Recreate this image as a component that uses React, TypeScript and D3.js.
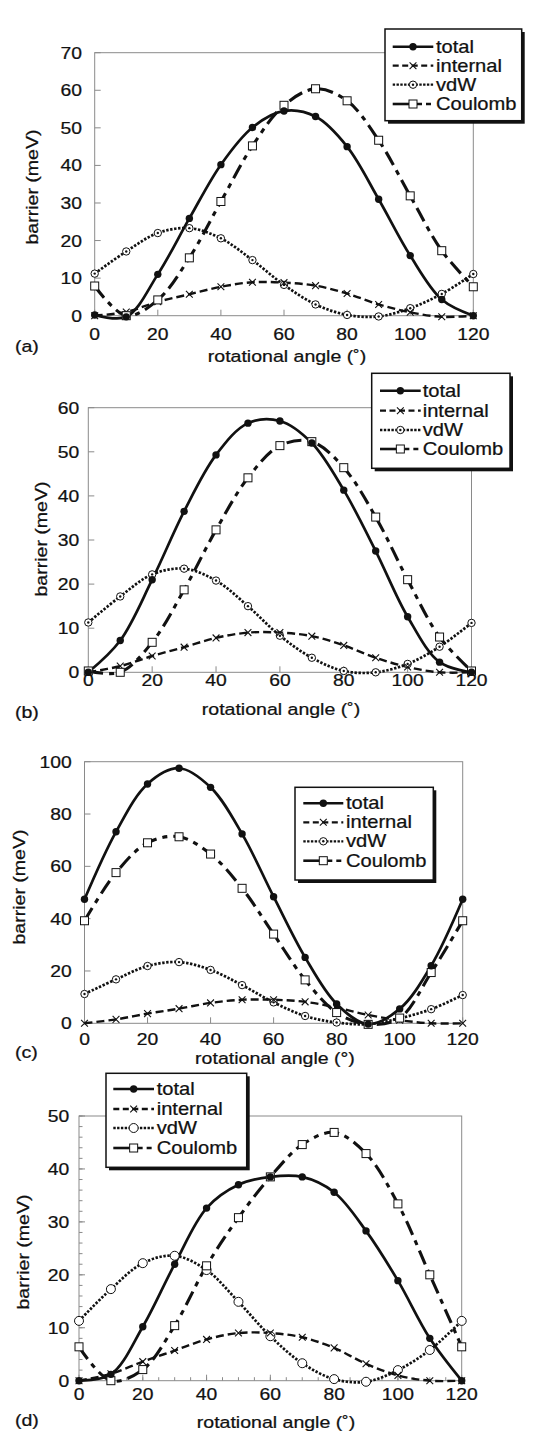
import React from 'react';
import * as d3 from 'd3';

// ---------- data ----------
const angles = [0, 10, 20, 30, 40, 50, 60, 70, 80, 90, 100, 110, 120];

const totalA = [0.2, -0.3, 11, 25.9, 40.2, 50.1, 54.5, 53, 45, 31, 16, 4.3, 0];
const internalA = [0, 1, 3.7, 5.7, 7.7, 8.9, 8.8, 8, 5.9, 3, 0.9, -0.3, 0];
const vdwA = [11.2, 17.1, 22, 23.3, 20.6, 14.8, 8.2, 3, 0.2, -0.2, 2, 5.8, 11.1];
const coulombA = [7.9, 0, 4.2, 15.4, 30.4, 45.2, 56, 60.4, 57.2, 46.7, 31.9, 17.3, 7.7];

const totalB = [0, 7.2, 21, 36.5, 49.3, 56.5, 57, 52, 41.3, 27.5, 12.6, 2.3, 0];
const internalB = [0, 1.4, 3.7, 5.7, 7.8, 9, 9, 8.2, 6.1, 3.3, 1.2, 0, 0];
const vdwB = [11.3, 17.2, 22.2, 23.5, 20.8, 15, 8.3, 3.3, 0.3, 0, 1.9, 5.8, 11.2];
const coulombB = [0.3, 0, 6.8, 18.7, 32.3, 44.1, 51.4, 52.3, 46.4, 35.2, 21, 8, 0.3];

const totalC = [47.4, 73.2, 91.5, 97.5, 90.2, 72.4, 48.4, 25.2, 7.4, -0.3, 5.5, 22, 47.4];
const internalC = [0, 1.5, 3.7, 5.6, 7.8, 9, 9, 8.2, 6, 3.2, 1.2, 0, 0];
const vdwC = [11.2, 16.8, 21.9, 23.4, 20.4, 14.6, 8, 2.8, 0.3, -0.3, 1.9, 5.4, 10.8];
const coulombC = [39.2, 57.6, 69, 71.3, 64.7, 51.6, 34.1, 16.6, 4.1, -0.4, 2, 19.4, 39.2];

const totalD = [0, 1.2, 10.2, 22, 32.6, 37, 38.5, 38.5, 35.6, 28.3, 18.9, 8, 0];
const internalD = [0, 1.3, 3.6, 5.7, 7.8, 9, 9, 8.2, 6.2, 3.2, 1, 0, 0];
const vdwD = [11.3, 17.3, 22.2, 23.6, 20.9, 14.9, 8.4, 3.3, 0.3, -0.2, 2, 5.8, 11.3];
const coulombD = [6.4, 0, 2.1, 10.4, 21.7, 30.8, 38.5, 44.6, 46.9, 42.9, 33.4, 20, 6.4];

const xTicks = [0, 20, 40, 60, 80, 100, 120];
const seriesNames = ['total', 'internal', 'vdW', 'Coulomb'];
const panelTags = ['(a)', '(b)', '(c)', '(d)'];
const xTitleText = 'rotational angle';
const yTitleText = 'barrier (meV)';

// ---------- layout ----------
const FONT = '"Liberation Sans", Arial, Helvetica, sans-serif';
const SX = 1.15;
const FS = 16.8;

type Legend = { x: number; y: number; w: number; h: number; sx0: number; sx1: number; tx: number; base: number[] };
type Layout = {
  px0: number; px1: number; py0: number; py1: number; yMax: number; yStep: number;
  xTickBase: number; yTickEnd: number; yTitle: [number, number]; xTitle: [number, number];
  tag: [number, number]; legend: Legend; deg: string; openCircle: boolean; minor: boolean;
};

const layouts: Layout[] = [
  { px0: 94.7, px1: 473.3, py0: 315.7, py1: 52.7, yMax: 70, yStep: 10, xTickBase: 340, yTickEnd: 82,
    yTitle: [38, 187], xTitle: [287, 362], tag: [15, 352],
    legend: { x: 385, y: 29, w: 136.7, h: 91.7, sx0: 392.7, sx1: 433.3, tx: 436, base: [52.7, 71.7, 90.7, 110] },
    deg: '\u02DA', openCircle: false, minor: false },
  { px0: 88.3, px1: 471.5, py0: 672.3, py1: 407.7, yMax: 60, yStep: 10, xTickBase: 686, yTickEnd: 79.3,
    yTitle: [46.5, 539], xTitle: [281, 715], tag: [15, 718],
    legend: { x: 371.7, y: 373.3, w: 138.3, h: 95, sx0: 380, sx1: 420.7, tx: 422.7, base: [396.7, 416.7, 436, 455] },
    deg: '\u02DA', openCircle: false, minor: false },
  { px0: 84.5, px1: 462.7, py0: 1023.3, py1: 761.7, yMax: 100, yStep: 20, xTickBase: 1045, yTickEnd: 71.7,
    yTitle: [25, 887], xTitle: [275, 1064], tag: [15, 1058],
    legend: { x: 295, y: 787.3, w: 138.3, h: 92.7, sx0: 303.3, sx1: 343.3, tx: 346, base: [809.3, 828.3, 847.3, 866.7] },
    deg: '\u00B0', openCircle: false, minor: false },
  { px0: 79, px1: 461.7, py0: 1380.7, py1: 1116, yMax: 50, yStep: 10, xTickBase: 1400, yTickEnd: 69.3,
    yTitle: [28.5, 1252], xTitle: [276, 1428], tag: [15, 1426],
    legend: { x: 106, y: 1073.3, w: 140.7, h: 94, sx0: 113.3, sx1: 154, tx: 156.7, base: [1095, 1115, 1134, 1154] },
    deg: '\u02DA', openCircle: true, minor: true },
];

const panelData = [
  [totalA, internalA, vdwA, coulombA],
  [totalB, internalB, vdwB, coulombB],
  [totalC, internalC, vdwC, coulombC],
  [totalD, internalD, vdwD, coulombD],
];

const lineStyles = [
  { w: 2.7, dash: '' },
  { w: 2.4, dash: '8 4' },
  { w: 2.7, dash: '2.4 1.6' },
  { w: 3.1, dash: '15 6 5 6' },
];

function T({ x, y, anchor = 'start', size = FS, rotate = 0, children }: any) {
  return (
    <text
      transform={`translate(${x},${y})${rotate ? ` rotate(${rotate})` : ''} scale(${SX},1)`}
      textAnchor={anchor}
      fontSize={size}
      fontFamily={FONT}
      fill="#111"
      stroke="#111"
      strokeWidth={0.25}
    >
      {children}
    </text>
  );
}

function Marker({ kind, x, y, open }: { kind: number; x: number; y: number; open: boolean }) {
  if (kind === 0) return <circle cx={x} cy={y} r={3.7} fill="#111" />;
  if (kind === 1) {
    const a = 3.4;
    return (
      <path d={`M${x - a},${y - a}L${x + a},${y + a}M${x - a},${y + a}L${x + a},${y - a}`} stroke="#111" strokeWidth={1.1} />
    );
  }
  if (kind === 2) {
    if (open) return <circle cx={x} cy={y} r={4.5} fill="#fff" stroke="#111" strokeWidth={1} />;
    return (
      <g>
        <circle cx={x} cy={y} r={3.7} fill="#fff" stroke="#111" strokeWidth={1} />
        <circle cx={x} cy={y} r={1.2} fill="#111" />
      </g>
    );
  }
  return <rect x={x - 4} y={y - 4} width={8} height={8} fill="#fff" stroke="#111" strokeWidth={1} />;
}

function Panel({ L, data, tag }: { L: Layout; data: number[][]; tag: string }) {
  const x = d3.scaleLinear().domain([0, 120]).range([L.px0, L.px1]);
  const y = d3.scaleLinear().domain([0, L.yMax]).range([L.py0, L.py1]);
  const yTicks = d3.range(0, L.yMax + 0.001, L.yStep);
  const line = d3
    .line<number>()
    .x((_, i) => x(angles[i]))
    .y((v) => y(v))
    .curve(d3.curveCatmullRom.alpha(0.5));
  const grey = '#8a8a8a';
  const minorY = L.minor ? d3.range(0, L.yMax + 0.001, 2) : [];
  const minorX = L.minor ? d3.range(0, 120.001, 5) : [];
  const lg = L.legend;
  return (
    <g>
      <rect x={L.px0} y={L.py1} width={L.px1 - L.px0} height={L.py0 - L.py1} fill="none" stroke={grey} strokeWidth={1} />
      {yTicks.map((t) => (
        <line key={'yt' + t} x1={L.px0} x2={L.px0 + 6} y1={y(t)} y2={y(t)} stroke={grey} strokeWidth={1} />
      ))}
      {xTicks.map((t) => (
        <line key={'xt' + t} x1={x(t)} x2={x(t)} y1={L.py0} y2={L.py0 - 6} stroke={grey} strokeWidth={1} />
      ))}
      {minorY.map((t) => (
        <line key={'my' + t} x1={L.px0} x2={L.px0 + 3.5} y1={y(t)} y2={y(t)} stroke={grey} strokeWidth={1} />
      ))}
      {minorX.map((t) => (
        <line key={'mx' + t} x1={x(t)} x2={x(t)} y1={L.py0} y2={L.py0 - 3.5} stroke={grey} strokeWidth={1} />
      ))}
      {yTicks.map((t) => (
        <T key={'yl' + t} x={L.yTickEnd} y={y(t) + 6} anchor="end">
          {String(t)}
        </T>
      ))}
      {xTicks.map((t) => (
        <T key={'xl' + t} x={x(t)} y={L.xTickBase} anchor="middle">
          {String(t)}
        </T>
      ))}
      <T x={L.yTitle[0]} y={L.yTitle[1]} anchor="middle" rotate={-90} size={17}>
        {yTitleText}
      </T>
      <T x={L.xTitle[0]} y={L.xTitle[1]} anchor="middle" size={17}>
        {`${xTitleText} (${L.deg})`}
      </T>
      <T x={L.tag[0]} y={L.tag[1]} size={17}>
        {tag}
      </T>
      {[2, 1, 3, 0].map((k) => (
        <path
          key={'ln' + k}
          d={line(data[k]) || ''}
          fill="none"
          stroke="#111"
          strokeWidth={lineStyles[k].w}
          strokeDasharray={lineStyles[k].dash || undefined}
        />
      ))}
      {[2, 1, 3, 0].map((k) => (
        <g key={'mk' + k}>
          {data[k].map((v, i) => (
            <Marker key={i} kind={k} x={x(angles[i])} y={y(v)} open={L.openCircle} />
          ))}
        </g>
      ))}
      <rect x={lg.x + 3} y={lg.y + 3} width={lg.w} height={lg.h} fill="#111" />
      <rect x={lg.x} y={lg.y} width={lg.w} height={lg.h} fill="#fff" stroke="#111" strokeWidth={1.5} />
      {seriesNames.map((name, k) => {
        const ly = lg.base[k] - 6;
        const mid = (lg.sx0 + lg.sx1) / 2;
        return (
          <g key={'lg' + name}>
            {k === 3 ? (
              <g>
                <line x1={lg.sx0} x2={mid} y1={ly} y2={ly} stroke="#111" strokeWidth={2.6} />
                <line x1={mid + 4} x2={lg.sx1} y1={ly} y2={ly} stroke="#111" strokeWidth={2.6} strokeDasharray="5 4" />
              </g>
            ) : (
              <line
                x1={lg.sx0}
                x2={lg.sx1}
                y1={ly}
                y2={ly}
                stroke="#111"
                strokeWidth={k === 0 ? 2.6 : 2.3}
                strokeDasharray={k === 1 ? '6 3.5' : k === 2 ? '2.4 1.4' : undefined}
              />
            )}
            <Marker kind={k} x={mid} y={ly} open={L.openCircle} />
            <T x={lg.tx} y={lg.base[k]} size={17.5}>
              {name}
            </T>
          </g>
        );
      })}
    </g>
  );
}

export default function App() {
  return (
    <svg
      width={544}
      height={1437}
      style={{ position: 'absolute', left: 0, top: 0, background: '#fff' }}
      xmlns="http://www.w3.org/2000/svg"
    >
      <rect x={0} y={0} width={544} height={1437} fill="#fff" />
      {layouts.map((L, i) => (
        <Panel key={i} L={L} data={panelData[i]} tag={panelTags[i]} />
      ))}
    </svg>
  );
}
